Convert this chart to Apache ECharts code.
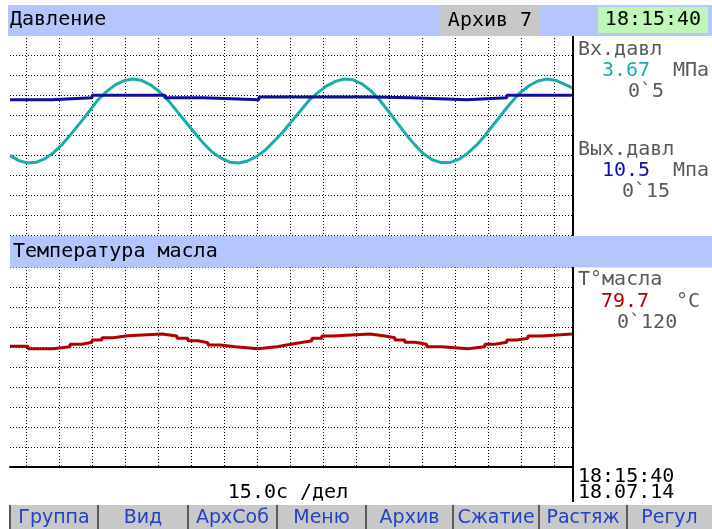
<!DOCTYPE html>
<html>
<head>
<meta charset="utf-8">
<script src="https://cdn.jsdelivr.net/npm/echarts@6/dist/echarts.min.js"></script>
<style>
html,body{margin:0;padding:0;background:#fff;}
#c{width:712px;height:529px;}
</style>
</head>
<body>
<div id="c"></div>
<script>
// ---------------- data ----------------
const timeSpan = 256;          // seconds across the trend window
const secPerDiv = 15;          // 15.0 s / division
const firstDivSec = 7.3;       // first vertical division line (s from left edge)

// Вх.давл (inlet pressure, MPa, scale 0..5) – sampled every 4 s
const inTimes = [0,4,8,12,16,20,24,28,32,36,40,44,48,52,56,60,64,68,72,76,80,84,88,92,96,100,104,108,112,116,120,124,128,132,136,140,144,148,152,156,160,164,168,172,176,180,184,188,192,196,200,204,208,212,216,220,224,228,232,236,240,244,248,252,256];
const inPressure = [1.99,1.86,1.80,1.82,1.91,2.07,2.28,2.54,2.81,3.09,3.38,3.59,3.76,3.86,3.90,3.86,3.75,3.58,3.36,3.09,2.82,2.55,2.29,2.07,1.92,1.82,1.80,1.85,1.96,2.12,2.34,2.57,2.84,3.10,3.37,3.56,3.73,3.84,3.90,3.88,3.78,3.61,3.38,3.10,2.81,2.52,2.26,2.03,1.88,1.81,1.81,1.89,2.04,2.24,2.49,2.77,3.05,3.32,3.56,3.73,3.85,3.90,3.87,3.77,3.67];

// Вых.давл (outlet pressure, MPa, scale 0..15) – step changes
const outTimes = [0,19,37.3,70.5,87.7,113.2,164.5,182.7,207.7,225.9,255.5];
const outPressure = [10.15,10.3,10.48,10.3,10.15,10.35,10.3,10.15,10.3,10.48,10.48];

// Т°масла (oil temperature, °C, scale 0..120) – step changes
const oilTimes = [0,8.2,19.5,27.3,32.7,37.3,41.8,46.8,53.6,69.1,75.9,80.9,85.5,90.0,95.5,102.3,112.7,121.4,126.4,131.8,137.3,141.8,146.8,163.6,170.5,175.0,179.5,184.1,189.5,196.4,208.2,215.9,220.5,225.9,230.5,235.5,241.8,255.5];
const oilTemp = [72.4,71.0,72.2,73.6,74.8,76.2,77.6,78.8,79.8,78.6,77.2,75.8,74.6,73.2,72.2,71.0,72.2,73.4,74.6,75.8,77.2,78.6,79.8,78.6,77.6,76.2,74.8,73.6,72.2,71.0,72.2,73.6,74.8,76.2,77.2,78.6,79.8,79.8];

const inScale = [0, 5];
const outScale = [0, 15];
const oilScale = [0, 120];

const buttonLabels = ['Группа','Вид','АрхСоб','Меню','Архив','Сжатие','Растяж','Регул'];

// ---------------- chart ----------------
const mono = '"DejaVu Sans Mono", monospace';
const sans = '"DejaVu Sans", sans-serif';
const divLines = [];
for (let v = firstDivSec; v < timeSpan; v += secPerDiv) divLines.push(+v.toFixed(2));

const dotted = {show: true, lineStyle: {color: '#000', width: 1, type: [1, 2]}};
const zip = (a, b) => a.map((t, i) => [t, b[i]]);

function xAx(gi, showLine) {
  return {
    type: 'value', gridIndex: gi, min: 0, max: timeSpan,
    axisLabel: {show: false},
    axisTick: {show: false, customValues: divLines},
    axisLine: {show: showLine, onZero: false, lineStyle: {color: '#000', width: 2}},
    splitLine: dotted
  };
}
function yAx(gi, scale, split) {
  return {
    type: 'value', gridIndex: gi, min: scale[0], max: scale[1], interval: (scale[1] - scale[0]) / 10,
    axisLabel: {show: false}, axisTick: {show: false}, axisLine: {show: false},
    splitLine: split ? dotted : {show: false}
  };
}

function txt(text, x, y, color, opts) {
  opts = opts || {};
  return {
    type: 'text', z: 200, silent: true,
    style: {
      text: text, x: x, y: y,
      font: (opts.size || 20) + 'px ' + (opts.family || mono),
      fill: color,
      textAlign: opts.align || 'left', align: opts.align || 'left',
      textVerticalAlign: 'middle', verticalAlign: 'middle'
    }
  };
}
function rect(x, y, w, h, fill) {
  return {type: 'rect', z: 150, silent: true, shape: {x: x, y: y, width: w, height: h}, style: {fill: fill}};
}

const graphics = [];
// header bars
graphics.push(rect(8, 5, 704, 31, '#b4c6fc'));
graphics.push(rect(440, 5, 100, 31, '#c8c8c8'));
graphics.push(rect(598, 7, 110, 26, '#bff7b8'));
graphics.push(rect(10, 236, 702, 31.5, '#b4c6fc'));
// right separator
graphics.push(rect(572, 36, 2, 200, '#000'));
graphics.push(rect(572, 267, 2, 235, '#000'));
// header texts
graphics.push(txt('Давление', 10, 20, '#000'));
graphics.push(txt('Архив 7', 490, 21, '#000', {align: 'center'}));
graphics.push(txt('18:15:40', 653, 20, '#000', {align: 'center'}));
graphics.push(txt('Температура масла', 13, 252, '#000'));
// right panel
const grey = '#5a5a5a';
graphics.push(txt('Вх.давл', 578, 50, grey));
graphics.push(txt('3.67', 602, 71, '#1aabab'));
graphics.push(txt('МПа', 673, 71, grey));
graphics.push(txt('0`5', 628, 92, grey));
graphics.push(txt('Вых.давл', 578, 150, grey));
graphics.push(txt('10.5', 602, 171, '#1010a8'));
graphics.push(txt('Мпа', 673, 171, grey));
graphics.push(txt('0`15', 622, 192, grey));
graphics.push(txt('Т°масла', 578, 280, grey));
graphics.push(txt('79.7', 601, 302, '#b00000'));
graphics.push(txt('°С', 676, 302, grey));
graphics.push(txt('0`120', 617, 323, grey));
// bottom info
graphics.push(txt('15.0с /дел', 288, 493, '#000', {align: 'center'}));
graphics.push(txt('18:15:40', 578, 477, '#000'));
graphics.push(txt('18.07.14', 578, 493, '#000'));
// buttons
const btnEdges = [10, 98, 188, 277, 366, 453, 539, 627, 712];
graphics.push(rect(10, 505, 702, 24, '#c8c8c8'));
for (let i = 0; i < buttonLabels.length; i++) {
  const x0 = btnEdges[i], x1 = btnEdges[i + 1];
  graphics.push({type: 'rect', z: 160, silent: true, shape: {x: x0 - 1, y: 505, width: 2, height: 24}, style: {fill: '#5a5a5a'}});
  graphics.push(txt(buttonLabels[i], (x0 + x1) / 2, 518, '#2242c4', {align: 'center', family: sans, size: 19}));
}

const option = {
  animation: false,
  backgroundColor: '#fff',
  grid: [
    {left: 10, top: 35, width: 563, height: 200, containLabel: false},
    {left: 10, top: 267, width: 563, height: 200, containLabel: false}
  ],
  xAxis: [xAx(0, false), xAx(1, true)],
  yAxis: [yAx(0, inScale, true), yAx(0, outScale, false), yAx(1, oilScale, true)],
  series: [
    {name: 'Вх.давл', type: 'line', xAxisIndex: 0, yAxisIndex: 0, data: zip(inTimes, inPressure),
     symbol: 'none', lineStyle: {color: '#1aabab', width: 3}, z: 3},
    {name: 'Вых.давл', type: 'line', xAxisIndex: 0, yAxisIndex: 1, data: zip(outTimes, outPressure), step: 'end',
     symbol: 'none', lineStyle: {color: '#10109a', width: 3}, z: 4},
    {name: 'Т°масла', type: 'line', xAxisIndex: 1, yAxisIndex: 2, data: zip(oilTimes, oilTemp), step: 'end',
     symbol: 'none', lineStyle: {color: '#b00000', width: 3}, z: 3}
  ],
  graphic: graphics
};

const chart = echarts.init(document.getElementById('c'), null, {renderer: 'canvas'});
chart.setOption(option);
</script>
</body>
</html>
